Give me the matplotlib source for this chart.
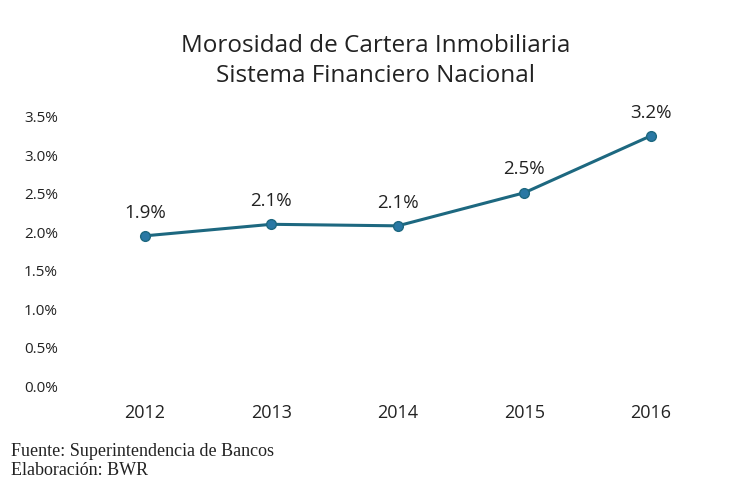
import matplotlib
matplotlib.use('Agg')
import matplotlib.pyplot as plt
from matplotlib.ticker import FuncFormatter

years = ['2012', '2013', '2014', '2015', '2016']
morosidad = [1.94, 2.09, 2.07, 2.50, 3.24]
labels = ['1.9%', '2.1%', '2.1%', '2.5%', '3.2%']
yticks = [0.0, 0.5, 1.0, 1.5, 2.0, 2.5, 3.0, 3.5]

fig = plt.figure(figsize=(7.3, 4.81), dpi=100)
ax = fig.add_axes([0.112, 0.1975, 0.866, 0.5595])

x = range(len(years))
ax.plot(x, morosidad, color='#1d6880', linewidth=2.2, marker='o',
        markersize=7, markerfacecolor='#2a78a4', markeredgecolor='#1d6880')
for i, (v, lab) in enumerate(zip(morosidad, labels)):
    ax.annotate(lab, (i, v), xytext=(0, 11), textcoords='offset points',
                ha='center', va='bottom', fontsize=13.5, family='Open Sans', color='#222222')

ax.set_xlim(-0.5, len(years) - 0.5)
ax.set_ylim(0, 3.5)
ax.set_yticks(yticks)
ax.yaxis.set_major_formatter(FuncFormatter(lambda v, p: f'{v:.1f}%'))
ax.set_xticks(list(x))
ax.set_xticklabels(years)
for s in ax.spines.values():
    s.set_visible(False)
ax.tick_params(axis='both', length=0)
ax.tick_params(axis='y', labelsize=11, pad=17)
ax.tick_params(axis='x', labelsize=13, pad=13)
for t in ax.get_yticklabels() + ax.get_xticklabels():
    t.set_family('Open Sans')
    t.set_color('#222222')

fig.text(0.515, 0.905, 'Morosidad de Cartera Inmobiliaria', ha='center', va='center',
         fontsize=17.5, family='Open Sans', color='#222222')
fig.text(0.515, 0.843, 'Sistema Financiero Nacional', ha='center', va='center',
         fontsize=17.5, family='Open Sans', color='#222222')

fig.text(0.015, 0.062, 'Fuente: Superintendencia de Bancos', ha='left', va='center',
         fontsize=13, family='Liberation Serif', color='#222222')
fig.text(0.015, 0.022, 'Elaboración: BWR', ha='left', va='center',
         fontsize=13, family='Liberation Serif', color='#222222')

fig.savefig('out.png', dpi=100)
